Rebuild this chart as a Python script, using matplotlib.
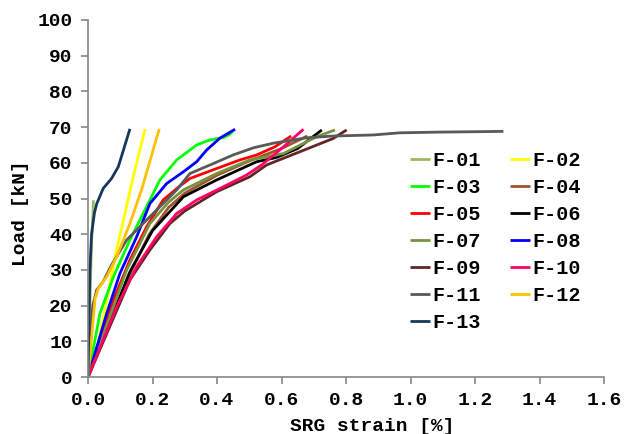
import matplotlib
matplotlib.use("Agg")
import matplotlib.pyplot as plt

plt.rcParams['font.family'] = ['Liberation Mono', 'DejaVu Sans']
plt.rcParams['font.weight'] = 'bold'

# strain [%] and load [kN] for each specimen
names = ['F-01', 'F-02', 'F-03', 'F-04', 'F-05', 'F-06', 'F-07',
         'F-08', 'F-09', 'F-10', 'F-11', 'F-12', 'F-13']

strain_f01 = [0, 0.004, 0.008, 0.011, 0.013, 0.015, 0.017]
load_f01 = [0, 12, 28, 38, 41, 45, 49.5]

strain_f02 = [0, 0.03, 0.06, 0.084, 0.11, 0.14, 0.177]
load_f02 = [0, 9, 22, 33.7, 44, 56, 69.5]

strain_f03 = [0, 0.037, 0.079, 0.13, 0.171, 0.223, 0.275, 0.337, 0.378, 0.42, 0.44, 0.45]
load_f03 = [0, 17.8, 28.1, 38.4, 45.8, 55.2, 60.8, 65.0, 66.4, 67.1, 68.0, 69.0]

strain_f04 = [0, 0.06, 0.12, 0.19, 0.25, 0.30, 0.40, 0.50, 0.60, 0.68]
load_f04 = [0, 13, 27, 40, 47.5, 51.5, 56.5, 60.5, 64, 67.5]

strain_f05 = [0, 0.079, 0.13, 0.182, 0.233, 0.285, 0.316, 0.399, 0.471, 0.523, 0.58, 0.63]
load_f05 = [0, 21.6, 32.8, 42.1, 49.6, 53.5, 55.6, 58.4, 60.8, 62.2, 64.5, 67.5]

strain_f06 = [0, 0.13, 0.2, 0.296, 0.399, 0.523, 0.585, 0.65, 0.725]
load_f06 = [0, 29.5, 41, 50.5, 55.2, 60.3, 61.5, 64, 69.2]

strain_f07 = [0, 0.12, 0.192, 0.25, 0.296, 0.399, 0.502, 0.606, 0.709, 0.766]
load_f07 = [0, 30, 43, 49, 52.4, 57, 60.8, 62.6, 67.3, 69.2]

strain_f08 = [0, 0.058, 0.099, 0.151, 0.192, 0.244, 0.296, 0.337, 0.368, 0.409, 0.456]
load_f08 = [0, 17.8, 29, 39.3, 48.6, 54.2, 57.5, 60.3, 63.6, 66.9, 69.4]

strain_f09 = [0, 0.13, 0.192, 0.254, 0.30, 0.399, 0.502, 0.554, 0.657, 0.76, 0.802]
load_f09 = [0, 27.2, 35.6, 43, 46.5, 51.9, 56.1, 59.4, 63.1, 66.8, 69.2]

strain_f10 = [0, 0.089, 0.151, 0.213, 0.275, 0.337, 0.409, 0.492, 0.54, 0.6, 0.668]
load_f10 = [0, 19.7, 30.9, 39.3, 45.8, 49.6, 52.8, 56.6, 59.5, 64, 69.4]

strain_f11 = [0, 0.006, 0.015, 0.027, 0.047, 0.073, 0.12, 0.171, 0.223, 0.275, 0.316,
              0.389, 0.45, 0.513, 0.575, 0.678, 0.76, 0.885, 0.967, 1.09, 1.288]
load_f11 = [0, 10.4, 20, 24.4, 26.7, 31.4, 38.4, 43, 47.7, 52.4, 57,
            59.8, 62.2, 64.2, 65.5, 67, 67.5, 67.8, 68.4, 68.6, 68.8]

strain_f12 = [0, 0.008, 0.015, 0.022, 0.032, 0.058, 0.089, 0.13, 0.166, 0.221]
load_f12 = [0, 8, 15, 22, 24.8, 28.1, 33.7, 43, 52.4, 69.5]

strain_f13 = [0, 0.003, 0.006, 0.011, 0.02, 0.027, 0.047, 0.073, 0.094, 0.11, 0.13]
load_f13 = [0, 15, 30, 40, 46, 48.5, 52.8, 55.6, 58.9, 63.6, 69.5]

strains = [strain_f01, strain_f02, strain_f03, strain_f04, strain_f05, strain_f06, strain_f07,
           strain_f08, strain_f09, strain_f10, strain_f11, strain_f12, strain_f13]
loads = [load_f01, load_f02, load_f03, load_f04, load_f05, load_f06, load_f07,
         load_f08, load_f09, load_f10, load_f11, load_f12, load_f13]

colors = ['#9BBB59', '#FFFF00', '#00FF00', '#A0522D', '#FF0000', '#000000', '#77933C',
          '#0000FF', '#632523', '#FF0066', '#595959', '#FFC000', '#17375E']

fig = plt.figure(figsize=(6.27, 4.34), dpi=100)
ax = fig.add_axes([88 / 627, 57 / 434, 516 / 627, 357 / 434])

lines = []
for s, l, c, n in zip(strains, loads, colors, names):
    ln, = ax.plot(s, l, color=c, lw=2.0, label=n, solid_capstyle='butt')
    lines.append(ln)

ax.set_xlim(0, 1.6)
ax.set_ylim(0, 100)
ax.set_xticks([0, 0.2, 0.4, 0.6, 0.8, 1.0, 1.2, 1.4, 1.6])
ax.set_xticklabels(['0.0', '0.2', '0.4', '0.6', '0.8', '1.0', '1.2', '1.4', '1.6'])
ax.set_yticks(range(0, 101, 10))

for side in ['top', 'right']:
    ax.spines[side].set_visible(False)
for side in ['left', 'bottom']:
    ax.spines[side].set_color('#868686')
    ax.spines[side].set_linewidth(1.2)
ax.tick_params(direction='out', length=5, width=1.2, color='#868686',
               labelsize=14, pad=6)

ax.set_xlabel('SRG strain [%]', fontsize=14, fontweight='bold')
ax.set_ylabel('Load [kN]', fontsize=14, fontweight='bold')
ax.xaxis.set_label_coords(0.55, -0.115)
ax.yaxis.set_label_coords(-0.115, 0.46)

# legend is filled column by column, so put odd specimens first
order = list(range(0, 13, 2)) + list(range(1, 13, 2))
ax.legend([lines[i] for i in order], [names[i] for i in order],
          ncol=2, frameon=False, fontsize=14.5, handlelength=1.0,
          handletextpad=0.1, columnspacing=1.45, labelspacing=0.4,
          loc='upper left', bbox_to_anchor=(410 / 627, 1 - 151 / 434),
          bbox_transform=fig.transFigure, borderaxespad=0, borderpad=0)

fig.savefig('out.png', dpi=100)
